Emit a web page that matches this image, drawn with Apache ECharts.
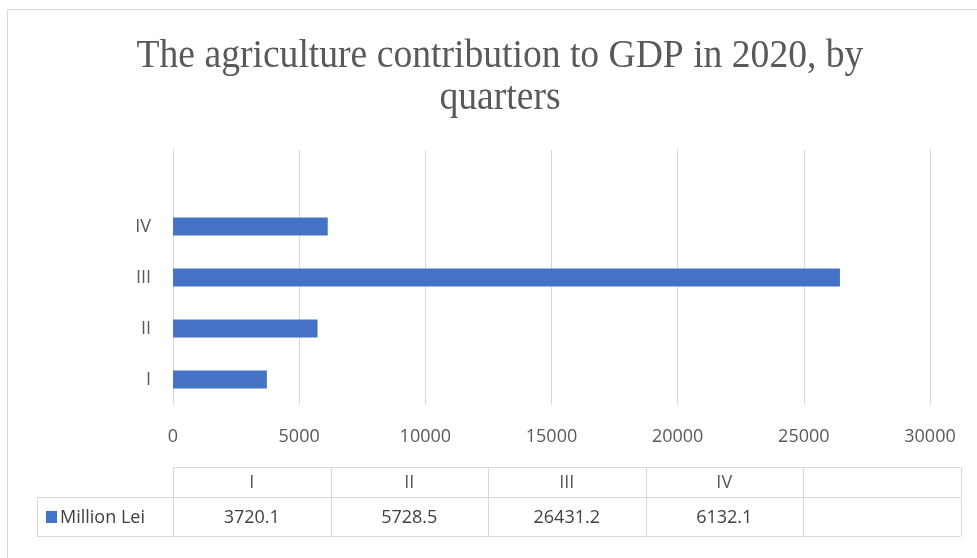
<!DOCTYPE html>
<html>
<head>
<meta charset="utf-8">
<script src="https://cdn.jsdelivr.net/npm/echarts@6/dist/echarts.min.js"></script>
<style>
html,body{margin:0;padding:0;background:#fff;}
#chart{width:977px;height:558px;}
</style>
</head>
<body>
<div id="chart"></div>
<script>
var titleLines = ['The agriculture contribution to GDP in 2020, by', 'quarters'];
var categories = ['I', 'II', 'III', 'IV', ''];
var seriesName = 'Million Lei';
var values = [3720.1, 5728.5, 26431.2, 6132.1, null];
var valueLabels = ['3720.1', '5728.5', '26431.2', '6132.1', ''];
var xTicks = [0, 5000, 10000, 15000, 20000, 25000, 30000];

var chart = echarts.init(document.getElementById('chart'));
var gridColor = '#d9d9d9';
var textColor = '#595959';
var sans = '"Open Sans", "Noto Sans", sans-serif';

// data table geometry
var tblLeft = 173, colW = 157.5, nCols = categories.length;
var tblRight = tblLeft + colW * nCols;
var rowTop = 467, rowMid = 497, rowBot = 536, legLeft = 37;

var graphics = [];
// outer frame
graphics.push({type:'rect', shape:{x:7.5, y:9.5, width:985, height:570}, style:{fill:null, stroke:gridColor, lineWidth:1}, silent:true});
// title
titleLines.forEach(function(t, i){
  graphics.push({type:'text', x:500, y:56 + i*42, scaleX:0.94, style:{text:t, fontSize:40, fontFamily:'"Liberation Serif", "Times New Roman", serif', fill:textColor, textAlign:'center', textVerticalAlign:'middle'}, silent:true});
});
// table lines
function line(x1,y1,x2,y2){graphics.push({type:'line', shape:{x1:x1,y1:y1,x2:x2,y2:y2}, style:{stroke:gridColor, lineWidth:1}, silent:true});}
line(tblLeft, rowTop+0.5, tblRight, rowTop+0.5);
line(legLeft, rowMid+0.5, tblRight, rowMid+0.5);
line(legLeft, rowBot+0.5, tblRight, rowBot+0.5);
line(legLeft+0.5, rowMid, legLeft+0.5, rowBot);
for (var c = 0; c <= nCols; c++) {
  var xx = Math.round(tblLeft + c*colW) + 0.5;
  line(xx, rowTop, xx, rowBot);
}
categories.forEach(function(cat, i){
  var cx = tblLeft + colW*(i+0.5);
  graphics.push({type:'text', x:cx, y:(rowTop+rowMid)/2+1, style:{text:cat, fontSize:18, fontFamily:sans, fill:textColor, textAlign:'center', textVerticalAlign:'middle'}, silent:true});
  graphics.push({type:'text', x:cx, y:(rowMid+rowBot)/2+1, style:{text:valueLabels[i], fontSize:18, fontFamily:sans, fill:'#404040', textAlign:'center', textVerticalAlign:'middle'}, silent:true});
});
// legend key
graphics.push({type:'rect', shape:{x:46, y:511, width:11, height:12}, style:{fill:'#4472C4'}, silent:true});
graphics.push({type:'text', x:60, y:(rowMid+rowBot)/2+1, style:{text:seriesName, fontSize:18, fontFamily:sans, fill:'#404040', textAlign:'left', textVerticalAlign:'middle'}, silent:true});

chart.setOption({
  backgroundColor:'#fff',
  animation:false,
  grid:{left:173, right:47, top:150, bottom:153, containLabel:false},
  xAxis:{
    type:'value', min:xTicks[0], max:xTicks[xTicks.length-1], interval:xTicks[1]-xTicks[0],
    axisLine:{show:false}, axisTick:{show:false},
    axisLabel:{color:textColor, fontSize:18, fontFamily:sans, margin:23, formatter:function(v){return String(v);}},
    splitLine:{show:true, lineStyle:{color:gridColor, width:1}}
  },
  yAxis:{
    type:'category', data:categories,
    axisLine:{show:false}, axisTick:{show:false},
    axisLabel:{color:textColor, fontSize:18, fontFamily:sans, margin:22},
    splitLine:{show:false}
  },
  series:[{
    name:seriesName, type:'bar', data:values, barWidth:18,
    itemStyle:{color:'#4472C4'}
  }],
  graphic:graphics
});
</script>
</body>
</html>
